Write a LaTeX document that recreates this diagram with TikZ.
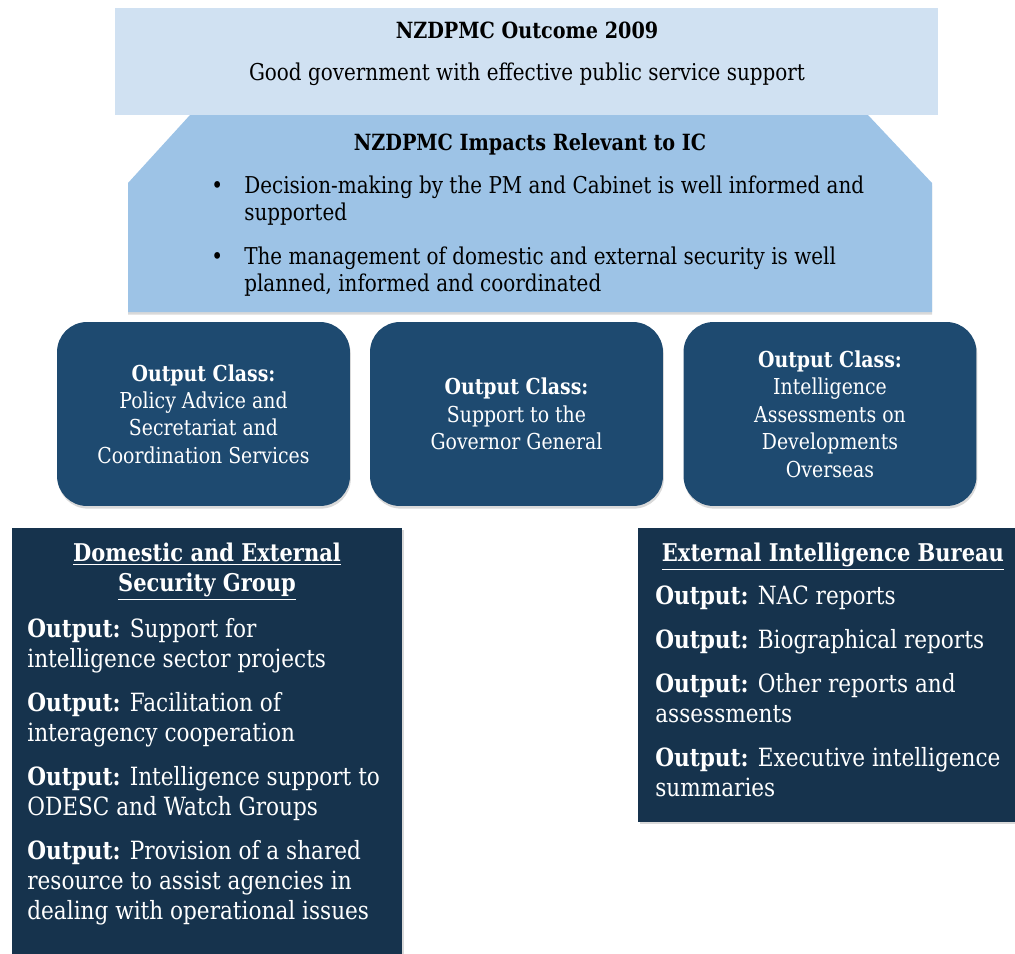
\documentclass[tikz,border=0pt]{standalone}
\usepackage{fontspec}
\setmainfont{DejaVu Serif}[FakeStretch=0.86]
\usetikzlibrary{shadows}
\definecolor{outcomeblue}{RGB}{208,225,242}
\definecolor{impactblue}{RGB}{157,195,230}
\definecolor{classblue}{RGB}{30,74,112}
\definecolor{groupnavy}{RGB}{22,51,77}
\newcommand\topfont{\fontsize{13.2}{15.3}\selectfont}
\newcommand\toptitlefont{\fontsize{12.7}{15.3}\selectfont}
\newcommand\classfont{\fontsize{12.5}{15.6}\selectfont}
\newcommand\grpfont{\fontsize{14.3}{17}\selectfont}
\newcommand\grptitlefont{\fontsize{13.9}{17}\selectfont}
\newcommand\bulletgap{\makebox[0.66cm][l]{\textbullet}}

\begin{document}
\begin{tikzpicture}[x=0.02cm, y=-0.02cm,
    outcomebox/.style={fill=outcomeblue, inner sep=0pt, minimum width=16.46cm, minimum height=2.14cm},
    classbox/.style={fill=classblue, rounded corners=0.6cm, minimum width=5.86cm, minimum height=3.68cm,
        text=white, align=center, font=\classfont,
        drop shadow={shadow xshift=0.5pt, shadow yshift=-1.5pt, opacity=0.3}},
    groupbox/.style={fill=groupnavy, inner sep=0pt,
        drop shadow={shadow xshift=1pt, shadow yshift=-1pt, opacity=0.3}},
    toptext/.style={inner sep=0pt, font=\topfont, align=left},
    wtext/.style={inner sep=0pt, text=white, font=\grpfont, align=left}
]
\useasboundingbox (0,0) rectangle (1015,954);

% outcome
\node[outcomebox] (outcome) at (526.5,61.5) {};
\node[toptext, font=\toptitlefont, anchor=base] (outtitle) at (527,38) {\textbf{NZDPMC Outcome 2009}};
\node[toptext, anchor=base] (outtext) at (527,80) {Good government with effective public service support};

% impacts
\fill[impactblue, drop shadow={shadow xshift=0pt, shadow yshift=-1.5pt, opacity=0.3}]
    (190,115) -- (868,115) -- (932,183) -- (932,312) -- (128,312) -- (128,183) -- cycle;
\node[toptext, font=\toptitlefont, anchor=base] (imptitle) at (530,150) {\textbf{NZDPMC Impacts Relevant to IC}};
% base of a multi-line node = last line
\node[toptext, anchor=base west] (impitems) at (211,291) {%
    \bulletgap Decision-making by the PM and Cabinet is well informed and\\
    \hspace*{0.66cm}supported\\[9.6pt]
    \bulletgap The management of domestic and external security is well\\
    \hspace*{0.66cm}planned, informed and coordinated};

% output classes
\node[classbox] (policy) at (203.5,414) {\textbf{Output Class:}\\Policy Advice and\\Secretariat and\\Coordination Services};
\node[classbox] (governor) at (516.5,414) {\textbf{Output Class:}\\Support to the\\Governor General};
\node[classbox] (assess) at (830,414) {\textbf{Output Class:}\\Intelligence\\Assessments on\\Developments\\Overseas};

% domestic and external security group
\node[groupbox, minimum width=7.8cm, minimum height=8.52cm] (desg) at (207,741) {};
\node[wtext, font=\grptitlefont, anchor=base, align=center] (desgtitle) at (207,591)
    {\underline{\textbf{Domestic and External}}\\\underline{\textbf{Security Group}}};
\node[wtext, anchor=base west] (desgitems) at (27,919) {%
    \textbf{Output:} Support for\\
    intelligence sector projects\\[8pt]
    \textbf{Output:} Facilitation of\\
    interagency cooperation\\[8pt]
    \textbf{Output:} Intelligence support to\\
    ODESC and Watch Groups\\[8pt]
    \textbf{Output:} Provision of a shared\\
    resource to assist agencies in\\
    dealing with operational issues};

% external intelligence bureau
\node[groupbox, minimum width=7.54cm, minimum height=5.88cm] (eib) at (826.5,675) {};
\node[wtext, font=\grptitlefont, anchor=base] (eibtitle) at (833,561) {\underline{\textbf{External Intelligence Bureau}}};
\node[wtext, anchor=base west] (eibitems) at (655,796) {%
    \textbf{Output:} NAC reports\\[8pt]
    \textbf{Output:} Biographical reports\\[8pt]
    \textbf{Output:} Other reports and\\
    assessments\\[8pt]
    \textbf{Output:} Executive intelligence\\
    summaries};
\end{tikzpicture}
\end{document}
